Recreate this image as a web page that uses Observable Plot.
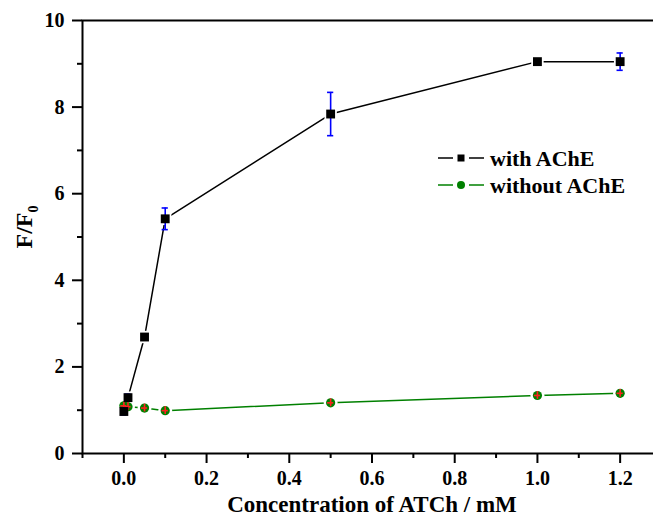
<!DOCTYPE html>
<html><head><meta charset="utf-8">
<script src="https://cdn.jsdelivr.net/npm/d3@7"></script>
<script src="https://cdn.jsdelivr.net/npm/@observablehq/plot@0.6"></script>
<style>
body{margin:0;background:#fff;overflow:hidden}
#chart{width:653px;height:517px;overflow:hidden}
</style>
</head><body><div id="chart"></div>
<script>
// ---- data ----
const conc = [0, 0.01, 0.05, 0.1, 0.5, 1.0, 1.2];
const withAChE = [0.97, 1.29, 2.69, 5.42, 7.84, 9.05, 9.05];
const withErr = [0.08, 0.08, 0.06, 0.25, 0.50, 0.05, 0.20];
const withoutAChE = [1.10, 1.08, 1.05, 0.99, 1.17, 1.34, 1.39];
const withoutErr = [0.09, 0.09, 0.09, 0.09, 0.09, 0.09, 0.09];
const xMajor = [0, 0.2, 0.4, 0.6, 0.8, 1.0, 1.2];
const xMinor = [-0.1, 0.1, 0.3, 0.5, 0.7, 0.9, 1.1];
const yMajor = [0, 2, 4, 6, 8, 10];
const yMinor = [1, 3, 5, 7, 9];
const seriesNames = ["with AChE", "without AChE"];
const xTitle = "Concentration of ATCh / mM";
const yTitleMain = "F/F";
const yTitleSub = "0";

const colors = {with: "#000000", without: "#008000", errWith: "#0000ff", errWithout: "#ff2020"};

const dWith = conc.map((x, i) => ({x, y: withAChE[i], e: withErr[i]}));
const dWithout = conc.map((x, i) => ({x, y: withoutAChE[i], e: withoutErr[i]}));
const capHalf = 0.0075;

const font = "'Liberation Serif','Times New Roman',serif";

const chart = Plot.plot({
  width: 653,
  height: 517,
  marginLeft: 82,
  marginTop: 20,
  marginBottom: 64,
  marginRight: -8,
  style: {fontFamily: font, fontWeight: "bold", fontSize: "20px", color: "black", background: "white", maxWidth: "none"},
  x: {domain: [-0.1, 1.3]},
  y: {domain: [0, 10]},
  marks: [
    Plot.axisX({ticks: xMinor, tickSize: 5, tickFormat: () => "", label: null, strokeWidth: 2}),
    Plot.axisX({ticks: xMajor, tickSize: 10, tickPadding: 7, tickFormat: d3.format(".1f"), fontSize: 20, label: null, strokeWidth: 2}),
    Plot.axisY({ticks: yMinor, tickSize: 5, tickFormat: () => "", label: null, strokeWidth: 2}),
    Plot.axisY({ticks: yMajor, tickSize: 10, tickPadding: 8, tickFormat: d3.format("d"), fontSize: 20, label: null, strokeWidth: 2}),
    Plot.frame({stroke: "black", strokeWidth: 2}),
    // lines
    Plot.line(dWithout, {x: "x", y: "y", stroke: colors.without, strokeWidth: 1.5}),
    Plot.line(dWith, {x: "x", y: "y", stroke: colors.with, strokeWidth: 1.5}),
    // halos (gaps around markers)
    Plot.dot(dWithout, {x: "x", y: "y", r: 7, fill: "white", stroke: "none"}),
    Plot.dot(dWith, {x: "x", y: "y", r: 7, symbol: "square", fill: "white", stroke: "none"}),
    // without AChE markers + red error bars
    Plot.dot(dWithout, {x: "x", y: "y", r: 4.6, fill: colors.without, stroke: "none"}),
    Plot.ruleX(dWithout, {x: "x", y1: d => d.y - d.e, y2: d => d.y + d.e, stroke: colors.errWithout, strokeWidth: 1.6}),
    Plot.ruleY(dWithout, {y: "y", x1: d => d.x - capHalf, x2: d => d.x + capHalf, stroke: colors.errWithout, strokeWidth: 1.6}),
    // with AChE markers + blue error bars
    Plot.ruleX(dWith, {x: "x", y1: d => d.y - d.e, y2: d => d.y + d.e, stroke: colors.errWith, strokeWidth: 1.6}),
    Plot.ruleY(dWith, {y: d => d.y - d.e, x1: d => d.x - capHalf, x2: d => d.x + capHalf, stroke: colors.errWith, strokeWidth: 1.6}),
    Plot.ruleY(dWith, {y: d => d.y + d.e, x1: d => d.x - capHalf, x2: d => d.x + capHalf, stroke: colors.errWith, strokeWidth: 1.6}),
    Plot.dot(dWith, {x: "x", y: "y", r: 5, symbol: "square", fill: colors.with, stroke: "none"}),
    // x title
    Plot.text([xTitle], {text: d => d, frameAnchor: "bottom", dy: 58, fontSize: 23, fontWeight: "bold", fill: "black"})
  ]
});
document.getElementById("chart").appendChild(chart);

// y title with subscript
const svg = d3.select(chart);
const yt = svg.append("text")
  .attr("transform", "translate(32,227) rotate(-90)")
  .attr("text-anchor", "middle")
  .attr("font-family", font).attr("font-weight", "bold").attr("font-size", 24).attr("fill", "black");
yt.append("tspan").text(yTitleMain);
yt.append("tspan").attr("font-size", 14).attr("dy", 6).text(yTitleSub);

// legend
const leg = svg.append("g").attr("font-family", font).attr("font-weight", "bold").attr("font-size", 22).attr("text-anchor", "start");
const legendItems = [
  {name: seriesNames[0], color: colors.with, symbol: "square", y: 158},
  {name: seriesNames[1], color: colors.without, symbol: "circle", y: 185}
];
legendItems.forEach(it => {
  leg.append("line").attr("x1", 438).attr("x2", 453).attr("y1", it.y).attr("y2", it.y).attr("stroke", it.color).attr("stroke-width", 1.5);
  leg.append("line").attr("x1", 469).attr("x2", 484).attr("y1", it.y).attr("y2", it.y).attr("stroke", it.color).attr("stroke-width", 1.5);
  if (it.symbol === "square") {
    leg.append("rect").attr("x", 457.5).attr("y", it.y - 3.5).attr("width", 7).attr("height", 7).attr("fill", it.color);
  } else {
    leg.append("circle").attr("cx", 461).attr("cy", it.y).attr("r", 4).attr("fill", it.color);
  }
  leg.append("text").attr("x", 490).attr("y", it.y).attr("dy", "0.35em").attr("text-anchor", "start").attr("fill", "black").text(it.name);
});
</script>
</body></html>
